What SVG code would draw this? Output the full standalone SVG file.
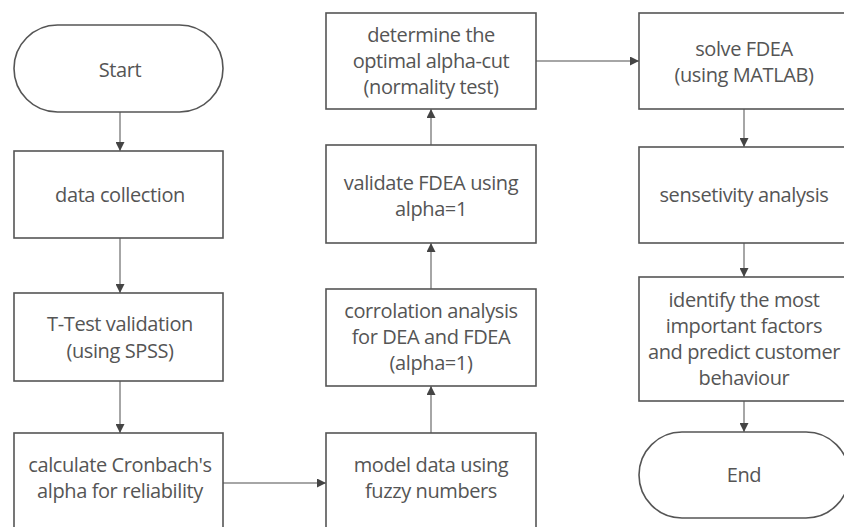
<svg xmlns="http://www.w3.org/2000/svg" width="844" height="527" viewBox="0 0 844 527">
<defs>
<marker id="ah" viewBox="0 0 10 10" refX="10" refY="5" markerWidth="9" markerHeight="9" markerUnits="userSpaceOnUse" orient="auto">
<path d="M0,0 L10,5 L0,10 z" fill="#444"/>
</marker>
<style>
.box{fill:#fff;stroke:#555;stroke-width:1.6}
.t{font-family:"Open Sans","Noto Sans",sans-serif;font-size:20px;fill:#555;text-anchor:middle;letter-spacing:-0.4px}
.c{fill:none;stroke:#888;stroke-width:1.5;marker-end:url(#ah)}
</style>
</defs>
<rect width="844" height="527" fill="#fff"/>
<g id="connectors">
<path class="c" d="M120,112 V151"/>
<path class="c" d="M120,238 V293"/>
<path class="c" d="M120,381 V433"/>
<path class="c" d="M223,483 H326"/>
<path class="c" d="M431,433 V386"/>
<path class="c" d="M431,289 V243"/>
<path class="c" d="M431,145 V109"/>
<path class="c" d="M536,61 H639"/>
<path class="c" d="M744,109 V147"/>
<path class="c" d="M744,243 V277"/>
<path class="c" d="M744,401 V432"/>
</g>
<g id="start"><rect class="box" x="14" y="25" width="209" height="87" rx="43.5"/><text class="t" x="120" y="77">Start</text></g>
<g id="data"><rect class="box" x="14" y="151" width="209" height="87"/><text class="t" x="120" y="202">data collection</text></g>
<g id="ttest"><rect class="box" x="14" y="293" width="209" height="88"/><text class="t" x="120" y="331">T-Test validation</text><text class="t" x="120" y="358">(using SPSS)</text></g>
<g id="cronbach"><rect class="box" x="14" y="433" width="209" height="110"/><text class="t" x="120" y="472">calculate Cronbach's</text><text class="t" x="120" y="498">alpha for reliability</text></g>
<g id="model"><rect class="box" x="326" y="433" width="210" height="110"/><text class="t" x="431" y="472">model data using</text><text class="t" x="431" y="498">fuzzy numbers</text></g>
<g id="corr"><rect class="box" x="326" y="289" width="210" height="97"/><text class="t" x="431" y="318">corrolation analysis</text><text class="t" x="431" y="344">for DEA and FDEA</text><text class="t" x="431" y="370">(alpha=1)</text></g>
<g id="validate"><rect class="box" x="326" y="145" width="210" height="98"/><text class="t" x="431" y="190">validate FDEA using</text><text class="t" x="431" y="216">alpha=1</text></g>
<g id="determine"><rect class="box" x="326" y="13" width="210" height="96"/><text class="t" x="431" y="42">determine the</text><text class="t" x="431" y="68">optimal alpha-cut</text><text class="t" x="431" y="94">(normality test)</text></g>
<g id="solve"><rect class="box" x="639" y="13" width="210" height="96"/><text class="t" x="744" y="56">solve FDEA</text><text class="t" x="744" y="82">(using MATLAB)</text></g>
<g id="sens"><rect class="box" x="639" y="147" width="210" height="96"/><text class="t" x="744" y="202">sensetivity analysis</text></g>
<g id="identify"><rect class="box" x="639" y="277" width="210" height="124"/><text class="t" x="744" y="307">identify the most</text><text class="t" x="744" y="333">important factors</text><text class="t" x="744" y="359">and predict customer</text><text class="t" x="744" y="385">behaviour</text></g>
<g id="end"><rect class="box" x="639" y="432" width="210" height="86" rx="43"/><text class="t" x="744" y="482">End</text></g>
</svg>
